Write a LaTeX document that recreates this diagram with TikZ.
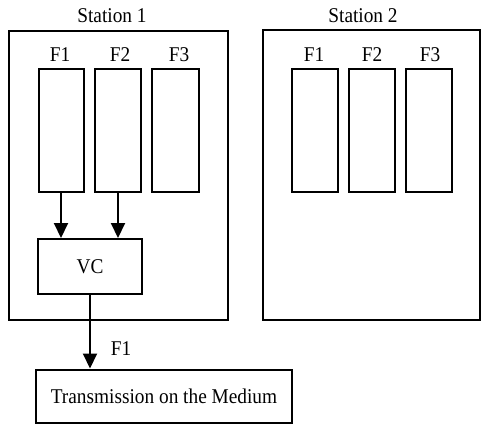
\documentclass[tikz,border=0pt]{standalone}
\usepackage{fontspec}
\setmainfont{Liberation Serif}[FakeStretch=0.92]
\usetikzlibrary{arrows.meta}
\begin{document}
\begin{tikzpicture}[x=1pt,y=-1pt,
  box/.style={draw,line width=2pt,inner sep=0pt},
  lbl/.style={font=\fontsize{21}{24}\selectfont,inner sep=0pt},
  arr/.style={line width=2pt,-{Triangle[length=15pt,width=14pt]}}]
\useasboundingbox (0,0) rectangle (481,424);
% stations
\node[box,minimum width=219pt,minimum height=289pt] (s1) at (118.5,175) {};
\node[box,minimum width=217pt,minimum height=290pt] (s2) at (371.5,175) {};
\node[lbl] (s1l) at (112,16) {Station 1};
\node[lbl] (s2l) at (363,16) {Station 2};
% station 1 frames
\node[box,minimum width=45pt,minimum height=123pt] (a1) at (61,130.5) {};
\node[box,minimum width=46pt,minimum height=123pt] (a2) at (118,130.5) {};
\node[box,minimum width=47pt,minimum height=123pt] (a3) at (175.5,130.5) {};
\node[lbl] (a1l) at (60,55) {F1};
\node[lbl] (a2l) at (120,55) {F2};
\node[lbl] (a3l) at (179,55) {F3};
% station 2 frames
\node[box,minimum width=46pt,minimum height=123pt] (b1) at (315,130.5) {};
\node[box,minimum width=46pt,minimum height=123pt] (b2) at (372,130.5) {};
\node[box,minimum width=46pt,minimum height=123pt] (b3) at (429,130.5) {};
\node[lbl] (b1l) at (314,55) {F1};
\node[lbl] (b2l) at (372,55) {F2};
\node[lbl] (b3l) at (430,55) {F3};
% VC
\node[box,lbl,minimum width=104pt,minimum height=55pt] (vc) at (90,266.5) {VC};
% transmission
\node[box,lbl,minimum width=256pt,minimum height=53pt] (tm) at (164,396) {Transmission on the Medium};
% arrows
\draw[arr] (a1.south) -- (a1.south |- vc.north);
\draw[arr] (a2.south) -- (a2.south |- vc.north);
\draw[arr] (vc.south) -- (vc.south |- tm.north);
\node[lbl] (f1) at (121,349) {F1};
\end{tikzpicture}
\end{document}
